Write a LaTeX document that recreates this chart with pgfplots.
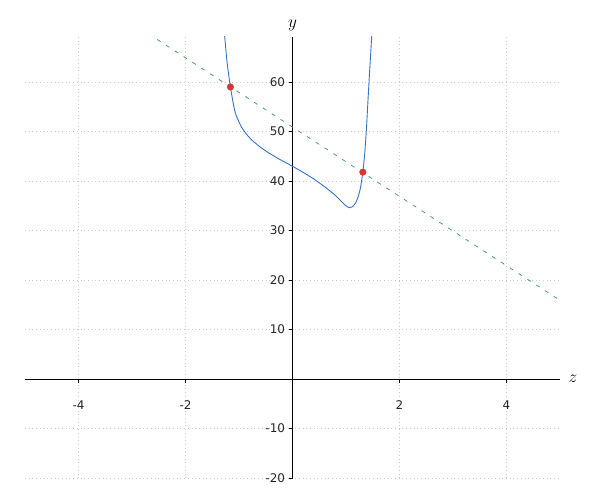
\documentclass[border=0pt]{standalone}
\usepackage{pgfplots}
\pgfplotsset{compat=1.18}
\usepackage{fontspec}
\setmainfont{DejaVu Sans}
\definecolor{curveblue}{RGB}{53,116,193}
\definecolor{lineGreen}{RGB}{70,160,100}
\definecolor{ptred}{RGB}{208,58,48}
\begin{document}
\begin{tikzpicture}
\useasboundingbox (0,0) rectangle (600bp,500bp);
\begin{axis}[
  at={(25bp,22bp)}, anchor=south west,
  width=535bp, height=441bp, scale only axis,
  axis lines=middle,
  xmin=-5, xmax=5, ymin=-20, ymax=69.1,
  xtick={-4,-2,2,4},
  ytick={-20,-10,10,20,30,40,50,60},
  grid=major,
  major grid style={gray!40, line width=0.7bp, dash pattern=on 0.7bp off 3bp},
  tick align=outside,
  major tick length=4bp,
  axis line style={black, line width=0.8bp, -},
  tick style={black, line width=0.8bp},
  ticklabel style={font=\fontsize{12}{14}\selectfont, text=black!85},
  x tick label style={yshift=-14bp},
  /pgf/number format/assume math mode=true,
  xlabel={$z$}, ylabel={$y$},
  x label style={at={(current axis.right of origin)}, anchor=west, xshift=5bp, font=\fontsize{17}{20}\selectfont},
  y label style={at={(current axis.above origin)}, anchor=south, yshift=3bp, font=\fontsize{17}{20}\selectfont},
  clip=true,
]
\addplot[lineGreen, line width=0.8bp, dash pattern=on 4bp off 6.5bp]
  coordinates {(-5,85.9) (5,15.9)};
\addplot[curveblue, line width=0.9bp, smooth, tension=0.45]
  coordinates {
  (-1.270,69.5) (-1.221,63.8) (-1.160,59.0) (-1.084,54.4) (-1.020,52.4)
  (-0.959,51.0) (-0.870,49.6) (-0.772,48.4) (-0.620,47.0) (-0.461,45.8)
  (-0.243,44.4) (-0.020,43.1) (0.190,41.8) (0.400,40.4) (0.630,38.6)
  (0.800,37.1) (0.920,35.8) (1.000,35.0) (1.065,34.6) (1.120,34.8)
  (1.180,35.6) (1.230,36.9) (1.270,38.6) (1.315,41.8) (1.350,45.6)
  (1.380,50.2) (1.430,60.0) (1.485,70.0)
  };
\addplot[only marks, mark=*, mark size=3.3bp, ptred, mark options={draw=ptred, fill=ptred}]
  coordinates {(-1.16,59.0) (1.315,41.8)};
\end{axis}
\end{tikzpicture}
\end{document}
